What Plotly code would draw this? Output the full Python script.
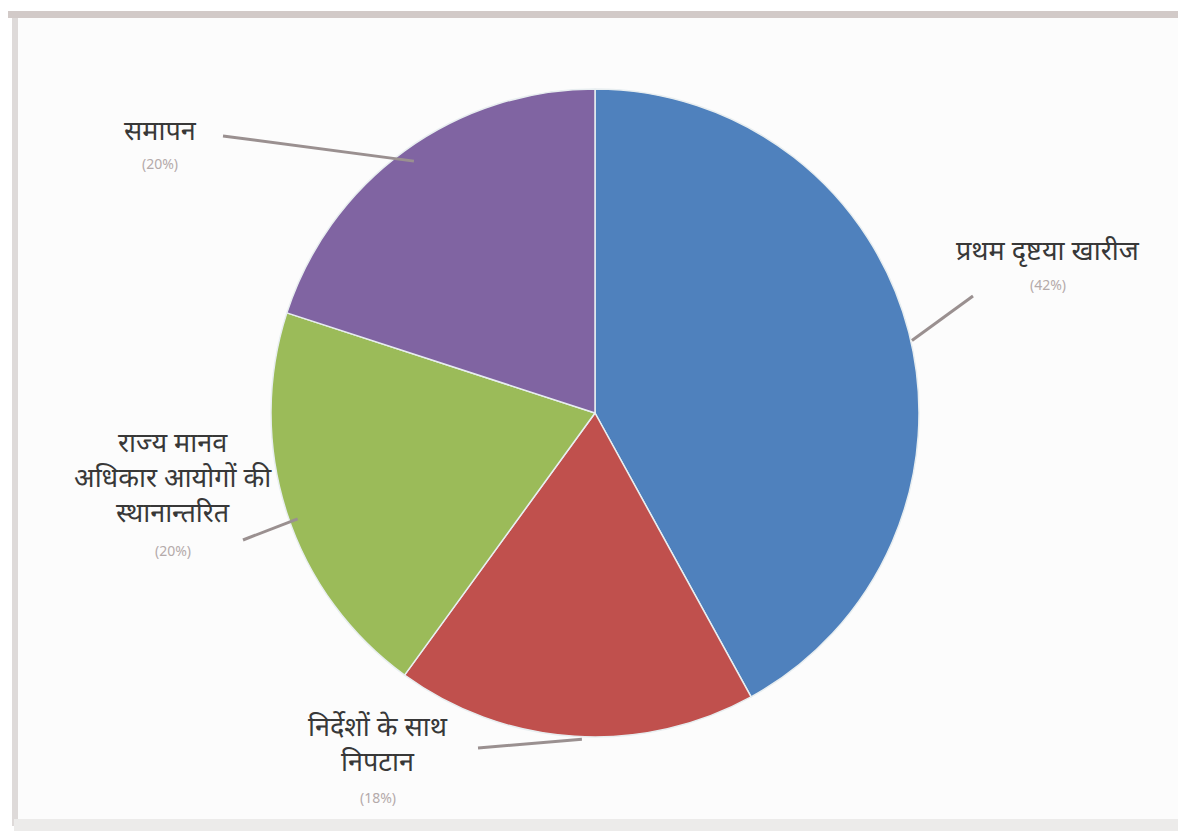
import math
import plotly.graph_objects as go

labels = ["प्रथम दृष्टया खारीज", "निर्देशों के साथ<br>निपटान",
          "राज्य मानव<br>अधिकार आयोगों की<br>स्थानान्तरित", "समापन"]
values = [42, 18, 20, 20]
pct_text = ["(42%)", "(18%)", "(20%)", "(20%)"]
colors = ["#4F81BD", "#C0504D", "#9BBB59", "#8064A2"]

W, H = 1186, 836
cx, cy, R = 594, 412, 324      # where the pie should appear (pixels)
dx_fix, dy_fix = -7, -7        # plotly domain offset correction


def px(x):
    return x / W


def py(y):
    return 1 - y / H


fig = go.Figure(go.Pie(
    labels=labels, values=values, sort=False, direction="clockwise", rotation=0,
    marker=dict(colors=colors, line=dict(color="#e8eef0", width=1.5)),
    textinfo="none", hoverinfo="label+percent", showlegend=False,
    domain=dict(x=[px(cx + dx_fix - R), px(cx + dx_fix + R)],
                y=[py(cy + dy_fix + R), py(cy + dy_fix - R)]),
))

# first-line centre of each label (layout) and leader outer end (layout)
label_pos = [(1040, 240), (370, 716), (165, 432), (152, 120)]
line_out = [(965, 288), (470, 740), (235, 532), (215, 128)]
LINE_H = 37

total = sum(values)
cum = 0
shapes = []
annotations = []
for i, v in enumerate(values):
    mid = (cum + v / 2) / total * 2 * math.pi
    cum += v
    ex = cx + (R - 4) * math.sin(mid)
    ey = cy - (R - 4) * math.cos(mid)
    ox, oy = line_out[i]
    shapes.append(dict(type="line", xref="paper", yref="paper",
                       x0=px(ox), y0=py(oy), x1=px(ex), y1=py(ey),
                       line=dict(color="#9a9090", width=3)))
    lx, ly = label_pos[i]
    nlines = labels[i].count("<br>") + 1
    annotations.append(dict(xref="paper", yref="paper", x=px(lx), y=py(ly),
                            text=labels[i], showarrow=False, xanchor="center",
                            yanchor="top", yshift=19,
                            font=dict(family="Noto Sans, Lato, sans-serif",
                                      size=27, color="#383838")))
    annotations.append(dict(xref="paper", yref="paper", x=px(lx),
                            y=py(ly + LINE_H * (nlines - 1) + 36),
                            text=pct_text[i], showarrow=False, xanchor="center",
                            yanchor="middle",
                            font=dict(family="Noto Sans, sans-serif", size=14,
                                      color="#b4aaaa")))

# frame of the original picture
shapes += [
    dict(type="rect", xref="paper", yref="paper", x0=0, x1=1, y0=py(10), y1=py(3),
         fillcolor="#d2cac8", line=dict(width=0), layer="below"),
    dict(type="rect", xref="paper", yref="paper", x0=px(4), x1=px(10), y0=py(818), y1=py(10),
         fillcolor="#dedad9", line=dict(width=0), layer="below"),
    dict(type="rect", xref="paper", yref="paper", x0=px(1174), x1=px(1182), y0=py(818), y1=py(10),
         fillcolor="#dedad9", line=dict(width=0), layer="below"),
    dict(type="rect", xref="paper", yref="paper", x0=px(6), x1=px(1182), y0=py(823), y1=py(811),
         fillcolor="#ecebea", line=dict(width=0), layer="below"),
    dict(type="rect", xref="paper", yref="paper", x0=px(10), x1=px(1174), y0=py(811), y1=py(10),
         fillcolor="#fcfcfc", line=dict(width=0), layer="below"),
]

fig.update_layout(width=W, height=H, margin=dict(l=0, r=0, t=0, b=0),
                  paper_bgcolor="white", plot_bgcolor="white",
                  shapes=shapes, annotations=annotations)
fig.write_html("out.html")
